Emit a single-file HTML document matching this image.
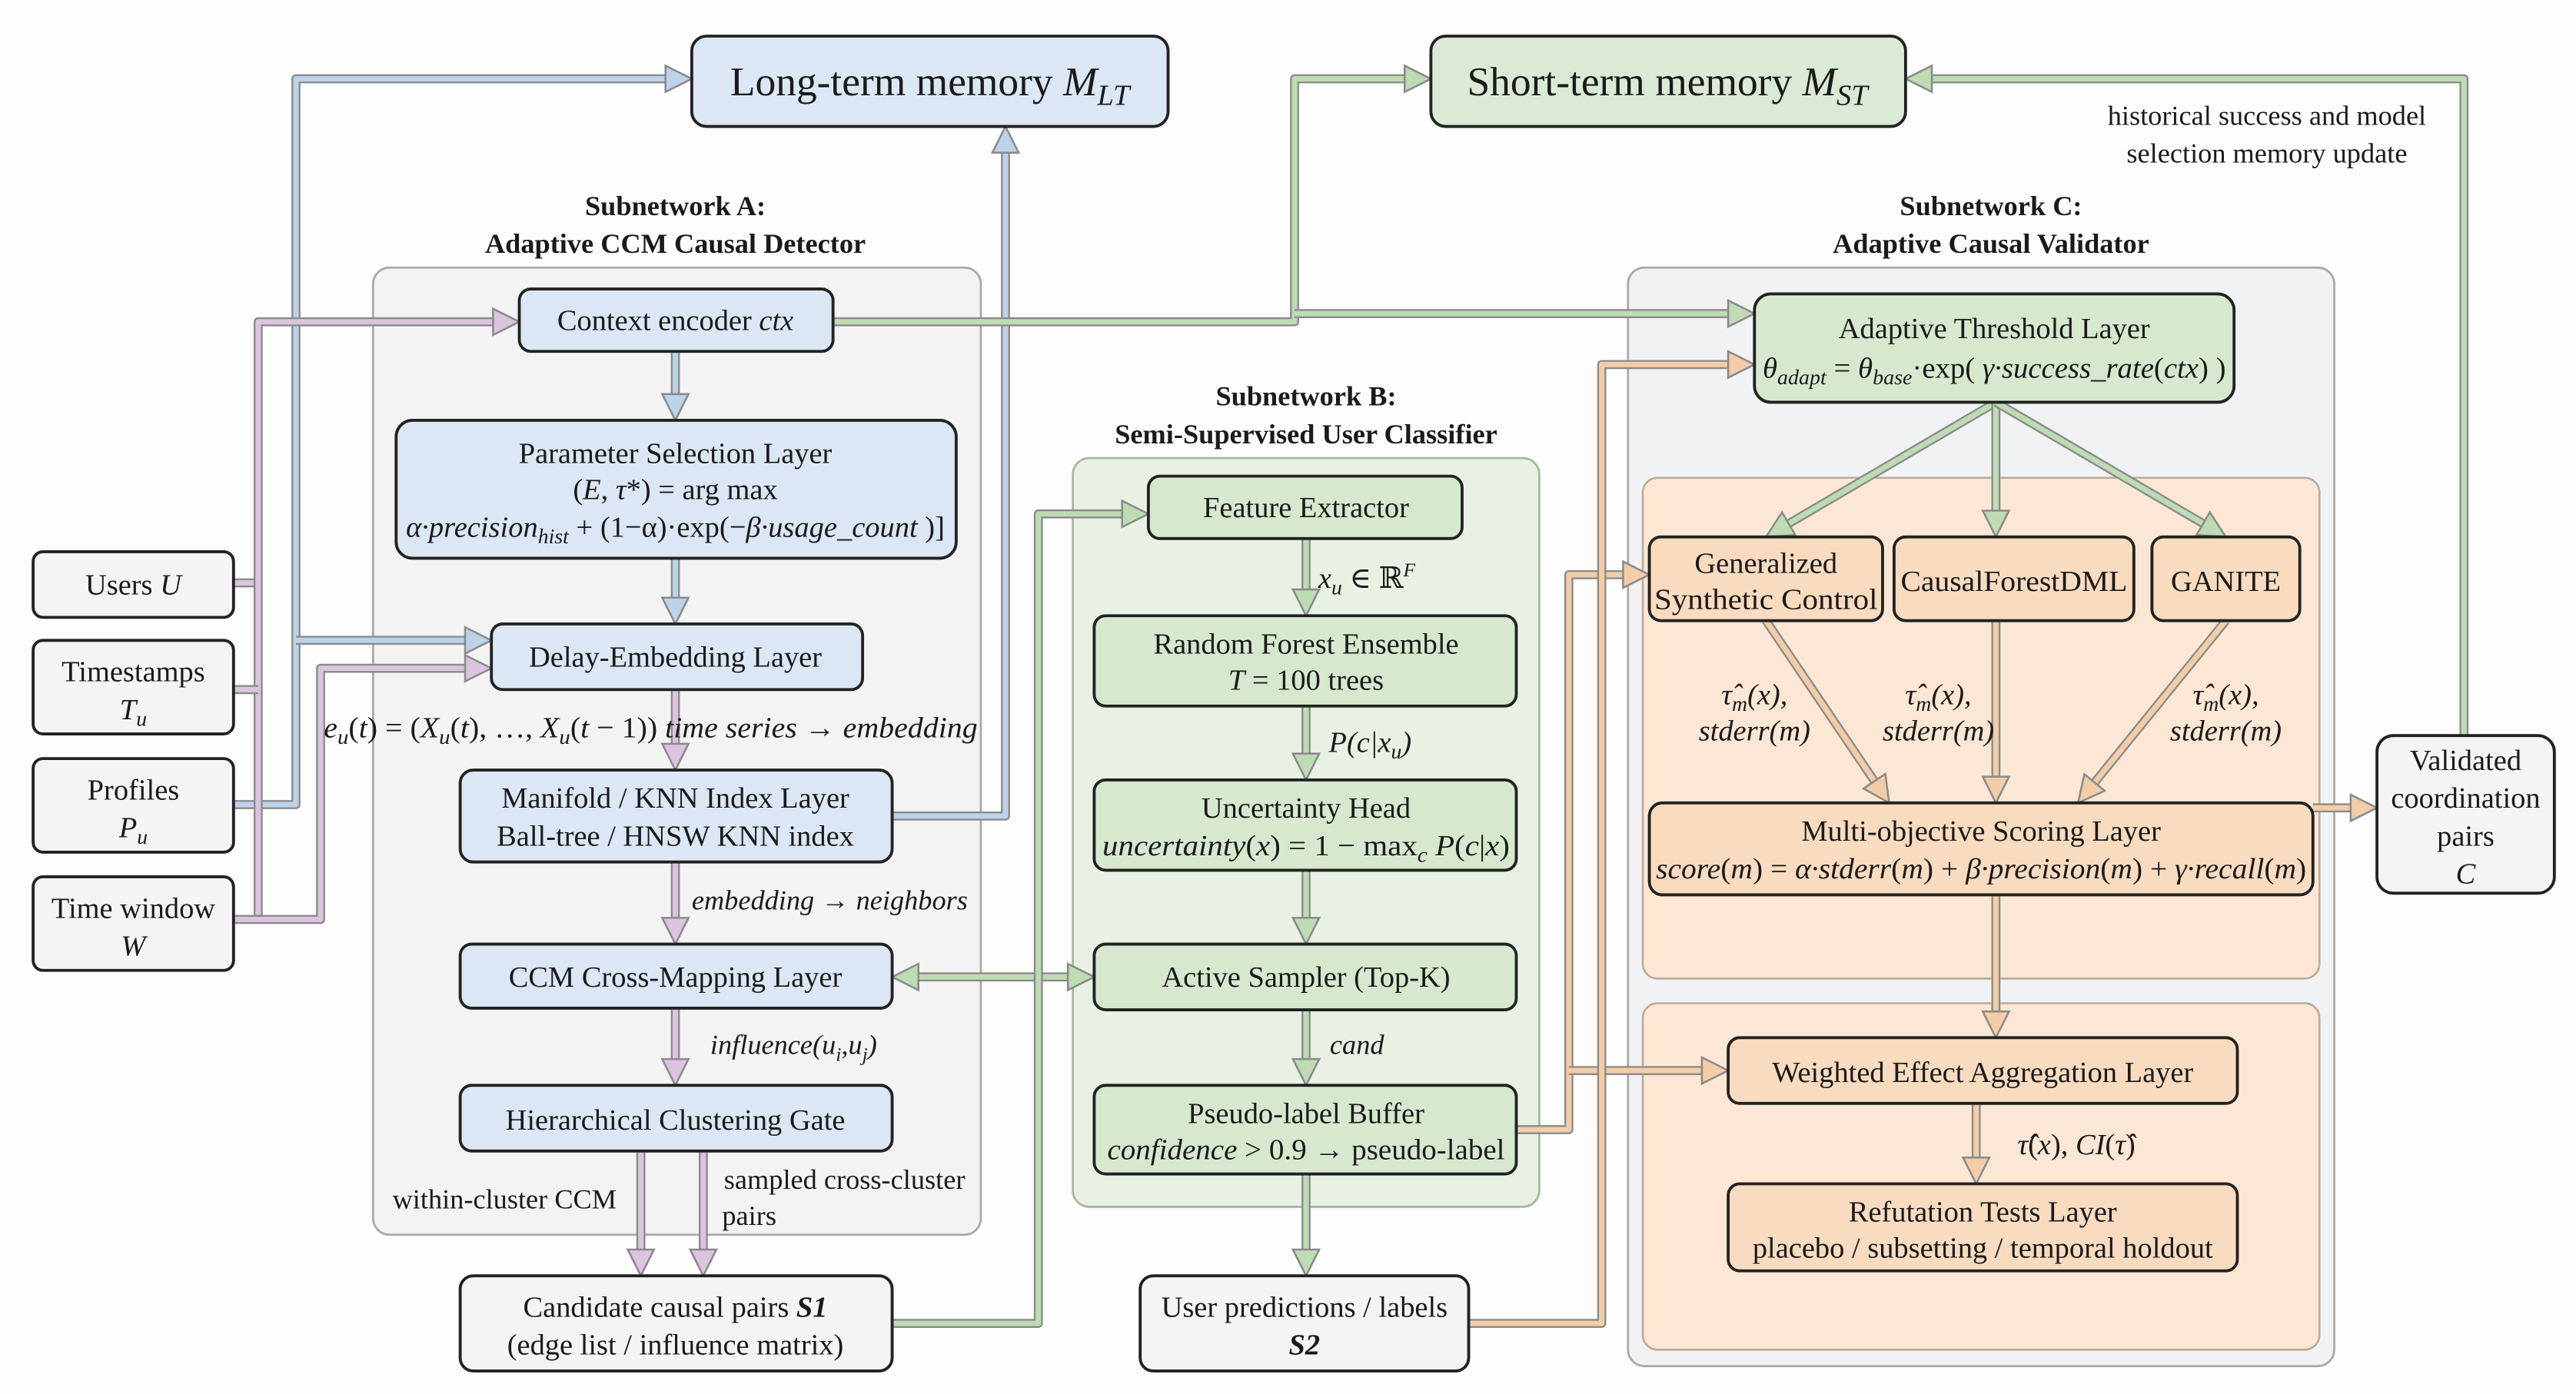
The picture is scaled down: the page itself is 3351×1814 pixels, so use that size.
<!DOCTYPE html>
<html><head><meta charset="utf-8"><style>
html,body{margin:0;padding:0;background:#fff}
svg{display:block}
text{font-family:"Liberation Serif","Times New Roman","DejaVu Serif",serif;fill:#1a1a1a}
.t{font-size:18px}
.b{font-weight:bold;font-size:17px}
.i{font-style:italic}
</style></head><body>
<svg id="s" width="3351" height="1814" viewBox="0 0 1568 849" xmlns="http://www.w3.org/2000/svg">
<rect width="1568" height="849" fill="#fdfdfd"/>
<rect x="227" y="163" width="370" height="589" rx="10" fill="#f3f3f4" stroke="#a9a9a9" stroke-width="1.3"/>
<rect x="653" y="279" width="284" height="456" rx="10" fill="#e8f1e3" stroke="#a9b6a4" stroke-width="1.3"/>
<rect x="991" y="163" width="430" height="669" rx="10" fill="#f1f2f4" stroke="#a9a9a9" stroke-width="1.3"/>
<rect x="1000" y="291" width="412" height="305" rx="9" fill="#fbe7d4" stroke="#bdaa98" stroke-width="1.2"/>
<rect x="1000" y="611" width="412" height="211" rx="9" fill="#fbe7d4" stroke="#bdaa98" stroke-width="1.2"/>
<g id="conn"></g>
<g id="nodes" stroke="#222" stroke-width="1.8">
<rect x="421" y="22" width="290" height="55" rx="9" fill="#dbe7f4"/>
<rect x="871" y="22" width="289" height="55" rx="9" fill="#dbead5"/>
<rect x="316" y="176" width="191" height="38" rx="7" fill="#dbe7f4"/>
<rect x="241" y="256" width="341" height="84" rx="10" fill="#dbe7f4"/>
<rect x="299" y="380" width="226" height="40" rx="7" fill="#dbe7f4"/>
<rect x="280" y="469" width="263" height="56" rx="8" fill="#dbe7f4"/>
<rect x="280" y="575" width="263" height="39" rx="7" fill="#dbe7f4"/>
<rect x="280" y="661" width="263" height="40" rx="7" fill="#dbe7f4"/>
<rect x="280" y="777" width="263" height="58" rx="8" fill="#f4f4f4"/>
<rect x="20" y="336" width="122" height="40" rx="6" fill="#f4f4f4"/>
<rect x="20" y="390" width="122" height="57" rx="6" fill="#f4f4f4"/>
<rect x="20" y="462" width="122" height="57" rx="6" fill="#f4f4f4"/>
<rect x="20" y="534" width="122" height="57" rx="6" fill="#f4f4f4"/>
<rect x="699" y="290" width="191" height="38" rx="7" fill="#d6e9cf"/>
<rect x="666" y="375" width="257" height="55" rx="7" fill="#d6e9cf"/>
<rect x="666" y="475" width="257" height="55" rx="7" fill="#d6e9cf"/>
<rect x="666" y="575" width="257" height="40" rx="7" fill="#d6e9cf"/>
<rect x="666" y="661" width="257" height="54" rx="7" fill="#d6e9cf"/>
<rect x="694" y="777" width="200" height="58" rx="8" fill="#f4f4f4"/>
<rect x="1068" y="179" width="292" height="66" rx="10" fill="#d6e9cf"/>
<rect x="1004" y="327" width="142" height="51" rx="7" fill="#f9dbbf"/>
<rect x="1153" y="327" width="146" height="51" rx="7" fill="#f9dbbf"/>
<rect x="1310" y="327" width="90" height="51" rx="7" fill="#f9dbbf"/>
<rect x="1004" y="489" width="404" height="56" rx="8" fill="#f9dbbf"/>
<rect x="1052" y="632" width="310" height="40" rx="7" fill="#f9dbbf"/>
<rect x="1052" y="721" width="310" height="53" rx="7" fill="#f9dbbf"/>
<rect x="1447" y="448" width="108" height="96" rx="10" fill="#f4f4f4"/>
</g>
<g text-anchor="middle" class="t">
<text x="566" y="58" style="font-size:25px">Long-term memory <tspan class="i">M</tspan><tspan class="i" dy="6" style="font-size:18px">LT</tspan></text>
<text x="1015" y="58" style="font-size:25px">Short-term memory <tspan class="i">M</tspan><tspan class="i" dy="6" style="font-size:18px">ST</tspan></text>
<text x="1380" y="76" style="font-size:17px">historical success and model</text>
<text x="1380" y="99" style="font-size:17px">selection memory update</text>
<text x="411" y="131" class="b">Subnetwork A:</text>
<text x="411" y="154" class="b">Adaptive CCM Causal Detector</text>
<text x="795" y="247" class="b">Subnetwork B:</text>
<text x="795" y="270" class="b">Semi-Supervised User Classifier</text>
<text x="1212" y="131" class="b">Subnetwork C:</text>
<text x="1212" y="154" class="b">Adaptive Causal Validator</text>
<text x="411" y="201">Context encoder <tspan class="i">ctx</tspan></text>
<text x="411" y="282">Parameter Selection Layer</text>
<text x="411" y="304">(<tspan class="i">E</tspan>, <tspan class="i">τ</tspan>*) = arg max</text>
<text x="411" y="327" textLength="328" lengthAdjust="spacingAndGlyphs"><tspan class="i">α·precision</tspan><tspan class="i" dy="4" style="font-size:13px">hist</tspan><tspan dy="-4"> + (1−α)·exp(−</tspan><tspan class="i">β·usage_count</tspan> )]</text>
<text x="411" y="406">Delay-Embedding Layer</text>
<text x="396" y="449" textLength="398" lengthAdjust="spacingAndGlyphs"><tspan class="i">e</tspan><tspan class="i" dy="4" style="font-size:13px">u</tspan><tspan dy="-4">(</tspan><tspan class="i">t</tspan>) = (<tspan class="i">X</tspan><tspan class="i" dy="4" style="font-size:13px">u</tspan><tspan dy="-4">(</tspan><tspan class="i">t</tspan>), …, <tspan class="i">X</tspan><tspan class="i" dy="4" style="font-size:13px">u</tspan><tspan dy="-4">(</tspan><tspan class="i">t</tspan> − 1))   <tspan class="i">time series → embedding</tspan></text>
<text x="411" y="492">Manifold / KNN Index Layer</text>
<text x="411" y="515">Ball-tree / HNSW KNN index</text>
<text x="505" y="554" class="i" style="font-size:17px">embedding → neighbors</text>
<text x="411" y="601">CCM Cross-Mapping Layer</text>
<text x="483" y="642" class="i" style="font-size:17px">influence(u<tspan dy="4" style="font-size:12px">i</tspan><tspan dy="-4">,u</tspan><tspan dy="4" style="font-size:12px">j</tspan><tspan dy="-4">)</tspan></text>
<text x="411" y="688">Hierarchical Clustering Gate</text>
<text x="307" y="736" style="font-size:17px">within-cluster CCM</text>
<text x="514" y="724" style="font-size:17px">sampled cross-cluster</text>
<text x="456" y="746" style="font-size:17px">pairs</text>
<text x="411" y="802">Candidate causal pairs <tspan class="i" font-weight="bold">S1</tspan></text>
<text x="411" y="825">(edge list / influence matrix)</text>
<text x="81" y="362">Users <tspan class="i">U</tspan></text>
<text x="81" y="415">Timestamps</text>
<text x="81" y="438" class="i">T<tspan dy="4" style="font-size:13px">u</tspan></text>
<text x="81" y="487">Profiles</text>
<text x="81" y="510" class="i">P<tspan dy="4" style="font-size:13px">u</tspan></text>
<text x="81" y="559">Time window</text>
<text x="81" y="582" class="i">W</text>
<text x="795" y="315">Feature Extractor</text>
<text x="832" y="358" class="i">x<tspan dy="4" style="font-size:13px">u</tspan><tspan dy="-4" font-style="normal"> ∈ ℝ</tspan><tspan dy="-7" style="font-size:12px">F</tspan></text>
<text x="795" y="398">Random Forest Ensemble</text>
<text x="795" y="420"><tspan class="i">T</tspan> = 100 trees</text>
<text x="834" y="458" class="i">P(c|x<tspan dy="4" style="font-size:13px">u</tspan><tspan dy="-4">)</tspan></text>
<text x="795" y="498">Uncertainty Head</text>
<text x="795" y="521" textLength="248" lengthAdjust="spacingAndGlyphs"><tspan class="i">uncertainty</tspan>(<tspan class="i">x</tspan>) = 1 − max<tspan dy="4" class="i" style="font-size:13px">c</tspan><tspan dy="-4" class="i"> P</tspan>(<tspan class="i">c</tspan>|<tspan class="i">x</tspan>)</text>
<text x="795" y="601">Active Sampler (Top-K)</text>
<text x="826" y="642" class="i" style="font-size:17px">cand</text>
<text x="795" y="684">Pseudo-label Buffer</text>
<text x="795" y="706" textLength="242" lengthAdjust="spacingAndGlyphs"><tspan class="i">confidence</tspan> &gt; 0.9 → pseudo-label</text>
<text x="794" y="802">User predictions / labels</text>
<text x="794" y="825" class="i" font-weight="bold">S2</text>
<text x="1214" y="206">Adaptive Threshold Layer</text>
<text x="1214" y="230" textLength="282" lengthAdjust="spacingAndGlyphs"><tspan class="i">θ</tspan><tspan class="i" dy="4" style="font-size:13px">adapt</tspan><tspan dy="-4"> = </tspan><tspan class="i">θ</tspan><tspan class="i" dy="4" style="font-size:13px">base</tspan><tspan dy="-4">·exp( </tspan><tspan class="i">γ·success_rate</tspan>(<tspan class="i">ctx</tspan>) )</text>
<text x="1075" y="349">Generalized</text>
<text x="1075" y="371" textLength="136" lengthAdjust="spacingAndGlyphs">Synthetic Control</text>
<text x="1226" y="360" textLength="138" lengthAdjust="spacingAndGlyphs">CausalForestDML</text>
<text x="1355" y="360">GANITE</text>
<text x="1068" y="429" class="i">τ̂<tspan dy="4" style="font-size:13px">m</tspan><tspan dy="-4">(x),</tspan></text>
<text x="1068" y="451" class="i">stderr(m)</text>
<text x="1180" y="429" class="i">τ̂<tspan dy="4" style="font-size:13px">m</tspan><tspan dy="-4">(x),</tspan></text>
<text x="1180" y="451" class="i">stderr(m)</text>
<text x="1355" y="429" class="i">τ̂<tspan dy="4" style="font-size:13px">m</tspan><tspan dy="-4">(x),</tspan></text>
<text x="1355" y="451" class="i">stderr(m)</text>
<text x="1206" y="512">Multi-objective Scoring Layer</text>
<text x="1206" y="535" textLength="396" lengthAdjust="spacingAndGlyphs"><tspan class="i">score</tspan>(<tspan class="i">m</tspan>) = <tspan class="i">α·stderr</tspan>(<tspan class="i">m</tspan>) + <tspan class="i">β·precision</tspan>(<tspan class="i">m</tspan>) + <tspan class="i">γ·recall</tspan>(<tspan class="i">m</tspan>)</text>
<text x="1207" y="659">Weighted Effect Aggregation Layer</text>
<text x="1264" y="703"><tspan class="i">τ̂</tspan>(<tspan class="i">x</tspan>), <tspan class="i">CI</tspan>(<tspan class="i">τ̂</tspan>)</text>
<text x="1207" y="744">Refutation Tests Layer</text>
<text x="1207" y="766">placebo / subsetting / temporal holdout</text>
<text x="1501" y="469">Validated</text>
<text x="1501" y="492">coordination</text>
<text x="1501" y="515">pairs</text>
<text x="1501" y="538" class="i">C</text>
</g>
</svg>
<script>
var C={b:"#bcd3ea",g:"#bddcb4",p:"#dcc3df",o:"#f3cda8"};
var g=document.getElementById("conn");var ns="http://www.w3.org/2000/svg";
function el(t,a){var e=document.createElementNS(ns,t);for(var k in a)e.setAttribute(k,a[k]);g.appendChild(e);return e;}
function line(pts,c,arrowEnd,arrowStart){
  var p=pts.slice();
  function shorten(a,b){var dx=b[0]-a[0],dy=b[1]-a[1],l=Math.hypot(dx,dy);return [b[0]-dx/l*13,b[1]-dy/l*13];}
  if(arrowEnd){p[p.length-1]=shorten(p[p.length-2],p[p.length-1]);}
  if(arrowStart){p[0]=shorten(p[1],p[0]);}
  var d="M"+p.map(function(q){return q[0]+","+q[1]}).join(" L");
  el("path",{d:d,fill:"none",stroke:"#8b8b8b","stroke-width":5.5,"stroke-linejoin":"round"});
  el("path",{d:d,fill:"none",stroke:C[c],"stroke-width":3.3,"stroke-linejoin":"round"});
  if(arrowEnd)head(pts[pts.length-2],pts[pts.length-1],c);
  if(arrowStart)head(pts[1],pts[0],c);
}
function head(a,b,c){var dx=b[0]-a[0],dy=b[1]-a[1],l=Math.hypot(dx,dy);dx/=l;dy/=l;
  var bx=b[0]-dx*16,by=b[1]-dy*16,nx=-dy*8,ny=dx*8;
  el("polygon",{points:b[0]+","+b[1]+" "+(bx+nx)+","+(by+ny)+" "+(bx-nx)+","+(by-ny),fill:C[c],stroke:"#8b8b8b","stroke-width":1.2});}
line([[142,490],[180,490],[180,48],[421,48]],"b",1);
line([[180,390],[299,390]],"b",1);
line([[543,497],[612,497],[612,77]],"b",1);
line([[411,214],[411,256]],"b",1);
line([[411,340],[411,380]],"b",1);
line([[142,355],[157,355]],"p",0);
line([[157,560],[157,196],[316,196]],"p",1);
line([[142,420],[157,420]],"p",0);
line([[142,560],[195,560],[195,407],[299,407]],"p",1);
line([[411,420],[411,469]],"p",1);
line([[411,525],[411,575]],"p",1);
line([[411,614],[411,661]],"p",1);
line([[390,701],[390,777]],"p",1);
line([[428,701],[428,777]],"p",1);
line([[507,196],[788,196],[788,48],[871,48]],"g",1);
line([[788,191],[1068,191]],"g",1);
line([[1500,448],[1500,48],[1160,48]],"g",1);
line([[543,595],[666,595]],"g",1,1);
line([[543,806],[632,806],[632,313],[699,313]],"g",1);
line([[795,328],[795,375]],"g",1);
line([[795,430],[795,475]],"g",1);
line([[795,530],[795,575]],"g",1);
line([[795,615],[795,661]],"g",1);
line([[795,715],[795,777]],"g",1);
line([[1215,245],[1075,327]],"g",1);
line([[1215,245],[1215,327]],"g",1);
line([[1215,245],[1355,327]],"g",1);
line([[923,688],[955,688],[955,350],[1004,350]],"o",1);
line([[955,652],[1052,652]],"o",1);
line([[894,806],[975,806],[975,222],[1068,222]],"o",1);
line([[1075,378],[1150,489]],"o",1);
line([[1215,378],[1215,489]],"o",1);
line([[1355,378],[1265,489]],"o",1);
line([[1215,545],[1215,632]],"o",1);
line([[1203,672],[1203,721]],"o",1);
line([[1408,492],[1447,492]],"o",1);
</script>
</body></html>
